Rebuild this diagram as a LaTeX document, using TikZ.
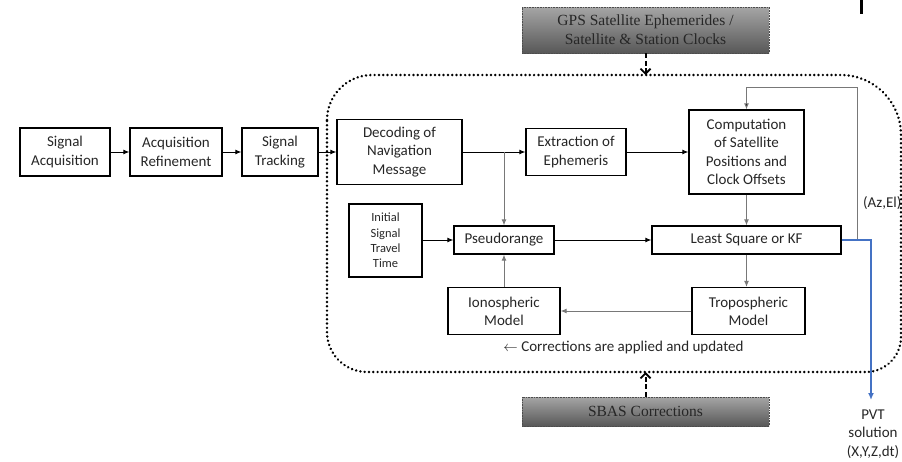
\documentclass[tikz,border=0pt]{standalone}
\usepackage{fontspec}
\setmainfont{Carlito}
\newfontfamily\gpsserif{Liberation Serif}
\usetikzlibrary{arrows.meta}

\definecolor{linegray}{RGB}{120,120,120}
\definecolor{pvtblue}{RGB}{68,114,196}
\definecolor{shadetop}{RGB}{165,165,165}
\definecolor{shadebot}{RGB}{88,88,88}

\tikzset{
  blockbox/.style={draw=black, line width=1.3pt, align=center, inner sep=0pt,
    text=black!85, font=\fontsize{15}{18.3}\selectfont},
  smallbox/.style={blockbox, font=\fontsize{12.5}{15.3}\selectfont},
  sourcebox/.style={draw=black!70, densely dotted, line width=0.6pt, align=center,
    inner sep=0pt, top color=shadetop, bottom color=shadebot, text=black!85,
    font=\gpsserif\fontsize{15.5}{18.7}\selectfont},
  flow/.style={line width=0.9pt, draw=black, -{Latex[length=6pt,width=5pt]}},
  flowgray/.style={flow, draw=linegray},
  feed/.style={line width=0.9pt, draw=linegray, -{Latex[length=6pt,width=5pt,fill=black]}},
  inject/.style={line width=2pt, draw=black, dash pattern=on 5pt off 2.5pt,
    -{Straight Barb[length=5pt,width=10pt,line width=1.8pt]}},
  regionline/.style={line width=2.7pt, dash pattern=on 0.01pt off 4.3pt, line cap=round},
  pvtline/.style={line width=1.8pt, draw=pvtblue, -{Latex[length=7pt,width=6pt]}},
  plaintext/.style={align=center, inner sep=0pt, text=black!85,
    font=\fontsize{15}{18.3}\selectfont}
}

\begin{document}
\begin{tikzpicture}[x=1pt, y=-1pt]
\useasboundingbox (0,0) rectangle (902,461);

% processing region (dotted, rounded)
\draw[regionline] (327,120)
  .. controls (327,95.2) and (347.2,75) .. (372,75)
  -- (841,75)
  .. controls (874.1,75) and (901,101.9) .. (901,135)
  -- (901,337)
  .. controls (901,356.3) and (885.3,372) .. (866,372)
  -- (367,372)
  .. controls (344.9,372) and (327,354.1) .. (327,332)
  -- cycle;
\coordinate (regtop) at (645.5,75);
\coordinate (regbot) at (645.5,372);

% small mark at the top edge
\fill (859.5,0) rectangle (862.5,14);

% receiver front end
\node[blockbox, minimum width=90pt, minimum height=48pt] (sacq) at (65,152) {Signal\\Acquisition};
\node[blockbox, minimum width=92pt, minimum height=48pt] (aref) at (176,152) {Acquisition\\Refinement};
\node[blockbox, minimum width=76pt, minimum height=48pt] (strk) at (280,152) {Signal\\Tracking};

% navigation processing
\node[blockbox, minimum width=125pt, minimum height=65pt] (dec) at (399.5,152) {Decoding of\\Navigation\\Message};
\node[blockbox, minimum width=100pt, minimum height=47pt] (ext) at (576,152) {Extraction of\\Ephemeris};
\node[blockbox, minimum width=115pt, minimum height=84pt] (comp) at (746.5,152) {Computation\\of Satellite\\Positions and\\Clock Offsets};
\node[blockbox, minimum width=189pt, minimum height=28pt] (ls) at (746.5,240) {Least Square or KF};
\node[blockbox, minimum width=113pt, minimum height=47pt] (tropo) at (748.5,311) {Tropospheric\\Model};
\node[blockbox, minimum width=112pt, minimum height=47pt] (iono) at (504,311) {Ionospheric\\Model};
\node[blockbox, minimum width=100pt, minimum height=28pt] (pseudo) at (504,240) {Pseudorange};
\node[smallbox, minimum width=73pt, minimum height=73pt] (init) at (385.5,240.5) {Initial\\Signal\\Travel\\Time};

% external inputs
\node[sourcebox, minimum width=247pt, minimum height=46pt] (gps) at (645.5,30) {GPS Satellite Ephemerides /\\Satellite \& Station Clocks};
\node[sourcebox, minimum width=247pt, minimum height=29pt] (sbas) at (645.5,411.5) {SBAS Corrections};

% labels
\node[plaintext] (corr) at (623.5,347) {$\leftarrow$ Corrections are applied and updated};
\node[plaintext, anchor=east] (azel) at (901.5,203) {(Az,El)};
\node[plaintext] (pvt) at (873,434) {PVT\\solution\\(X,Y,Z,dt)};

% connectors
\draw[flow] (sacq) -- (aref);
\draw[flow] (aref) -- (strk);
\draw[flow] (strk) -- (dec);
\coordinate (br) at (504,152);
\draw[flow] (dec.east) -- (ext.west);
\draw[flowgray] (br) -- (pseudo.north);
\draw[flow] (ext.east) -- (comp.west);
\draw[flowgray] (comp.south) -- (ls.north);
\draw[flowgray] (ls.south) -- (ls.south |- tropo.north);
\draw[flowgray] (tropo.west) -- (iono.east);
\draw[flowgray] (iono.north) -- (pseudo.south);
\draw[flow] (init.east |- pseudo.west) -- (pseudo.west);
\draw[flow] (pseudo.east) -- (ls.west);

% azimuth/elevation feedback
\coordinate (fbr) at (857,87);
\draw[feed] (ls.east) -| (fbr) -| (comp.north);

% PVT output
\coordinate (pvtend) at (871,400);
\draw[pvtline] (ls.east) -| (pvtend);

% external data injection
\draw[inject] (gps.south) -- (regtop);
\draw[inject] (sbas.north) -- (regbot);
\end{tikzpicture}
\end{document}
